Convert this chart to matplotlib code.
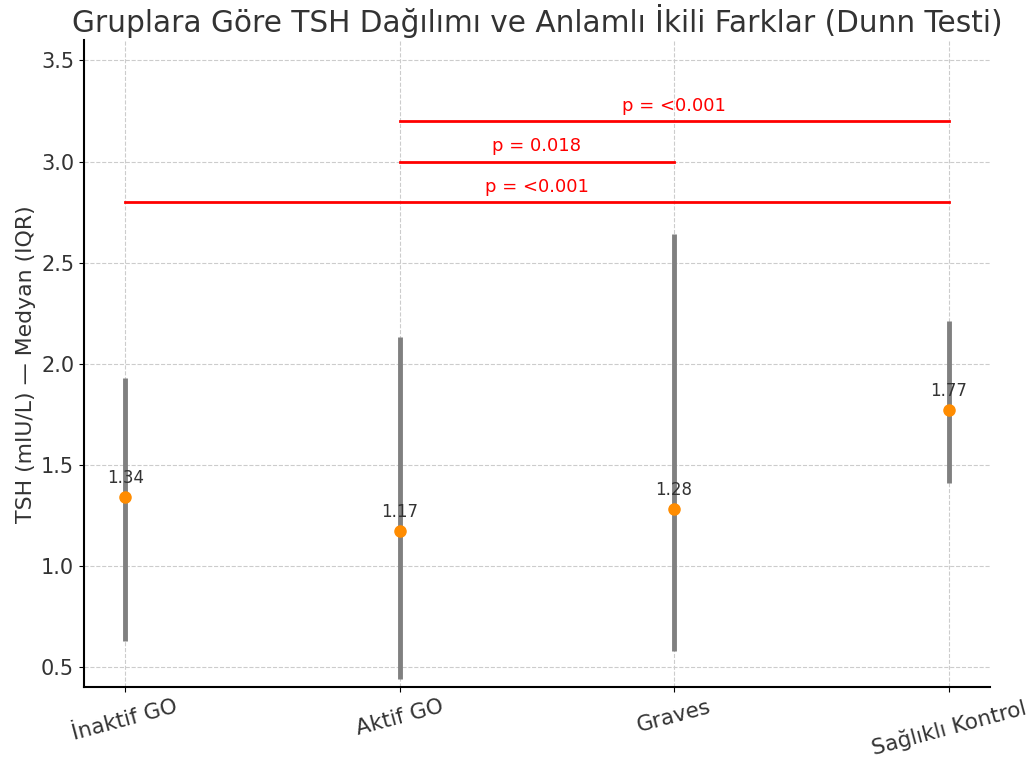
import numpy as np
import matplotlib.pyplot as plt

groups = ["İnaktif GO", "Aktif GO", "Graves", "Sağlıklı Kontrol"]
medians = [1.34, 1.17, 1.28, 1.77]
q1 = [0.63, 0.44, 0.58, 1.41]
q3 = [1.93, 2.13, 2.64, 2.21]

# significant pairs (Dunn test)
pairs = [(0, 3), (1, 2), (1, 3)]
pair_y = [2.8, 3.0, 3.2]
pair_p = ["<0.001", "0.018", "<0.001"]

fig = plt.figure(figsize=(10.34, 7.6), dpi=100)
ax = fig.add_axes([0.0812, 0.096, 0.876, 0.851])

x = np.arange(len(groups))
ax.vlines(x, q1, q3, color="gray", lw=3.5, zorder=2)
ax.plot(x, medians, "o", color="darkorange", ms=8, zorder=3)
for xi, m in zip(x, medians):
    ax.text(xi, m + 0.05, f"{m:.2f}", ha="center", va="bottom", fontsize=12, color="#333333")

for (a, b), y, p in zip(pairs, pair_y, pair_p):
    ax.plot([a, b], [y, y], color="red", lw=2, zorder=2)
    ax.text((a + b) / 2, y + 0.03, f"p = {p}", ha="center", va="bottom", fontsize=13, color="red")

ax.set_xlim(-0.15, 3.15)
ax.set_ylim(0.4, 3.6)
ax.set_xticks(x)
ax.set_xticklabels(groups, rotation=15, fontsize=15.5, color="#333333")
ax.tick_params(axis="y", labelsize=15, labelcolor="#333333")
ax.set_ylabel("TSH (mIU/L) — Medyan (IQR)", fontsize=15.8, color="#333333")
ax.set_title("Gruplara Göre TSH Dağılımı ve Anlamlı İkili Farklar (Dunn Testi)", fontsize=21.3, color="#333333")
ax.grid(True, linestyle="--", color="#cccccc", lw=0.8, zorder=0)
ax.spines["top"].set_visible(False)
ax.spines["right"].set_visible(False)
ax.spines["left"].set_linewidth(1.5)
ax.spines["bottom"].set_linewidth(1.5)

fig.savefig("out.png", dpi=100)
